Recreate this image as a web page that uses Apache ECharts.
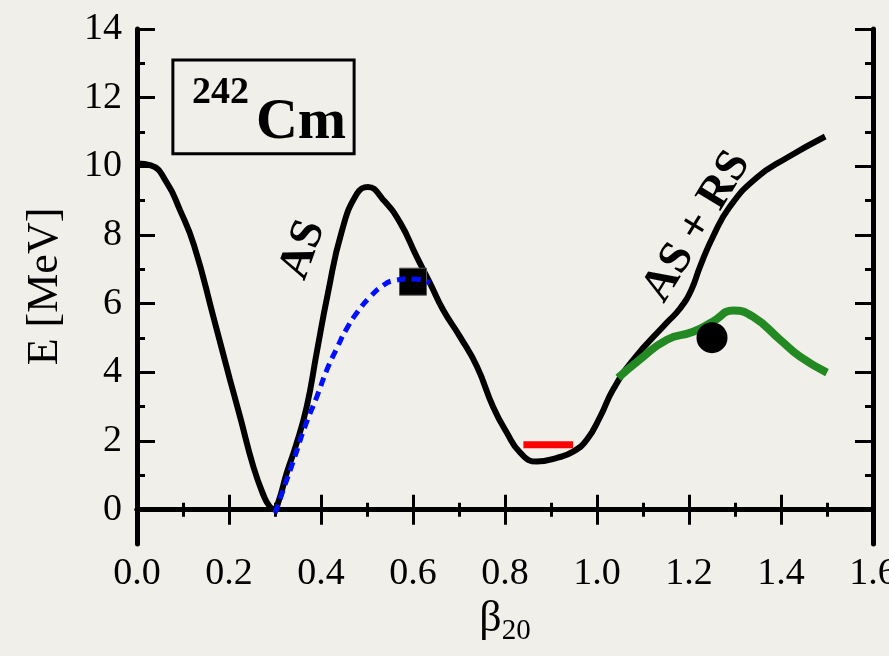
<!DOCTYPE html>
<html>
<head>
<meta charset="utf-8">
<script src="https://cdn.jsdelivr.net/npm/echarts@6/dist/echarts.min.js"></script>
<style>
  html, body { margin: 0; padding: 0; background: #f1efea; }
  #chart { width: 889px; height: 656px; }
</style>
</head>
<body>
<div id="chart"></div>
<script>
// Potential energy of 242Cm along the fission path (beta_20, MeV)
const asBeta = [0.0, 0.03, 0.065, 0.093, 0.124, 0.166, 0.202, 0.224, 0.253, 0.275, 0.288, 0.298, 0.308, 0.325, 0.345, 0.369, 0.391, 0.415, 0.445, 0.478, 0.502, 0.535, 0.572, 0.608, 0.637, 0.665, 0.702, 0.739, 0.774, 0.804, 0.833, 0.869, 0.913, 0.948, 0.978, 1.007, 1.035, 1.079, 1.152, 1.18, 1.205, 1.224, 1.252, 1.289, 1.347, 1.413, 1.496];
const asEnergy = [10.08, 10.03, 9.52, 8.74, 7.7, 5.62, 3.79, 2.71, 1.25, 0.42, 0.1, 0.02, 0.25, 1.05, 1.85, 3.0, 4.6, 6.3, 8.1, 9.2, 9.4, 9.03, 8.36, 7.37, 6.6, 5.83, 5.04, 4.17, 3.0, 2.24, 1.66, 1.4, 1.51, 1.69, 2.04, 2.71, 3.5, 4.37, 5.45, 5.85, 6.4, 7.08, 7.95, 8.83, 9.67, 10.25, 10.87];

// Dynamic path through the first barrier
const pathBeta = [0.3, 0.318, 0.343, 0.365, 0.391, 0.413, 0.435, 0.457, 0.48, 0.507, 0.532, 0.557, 0.6, 0.637];
const pathEnergy = [-0.1, 0.58, 1.54, 2.42, 3.29, 4.08, 4.72, 5.3, 5.77, 6.2, 6.5, 6.67, 6.72, 6.61];

// Reflection-asymmetric outer barrier
const rsBeta = [1.046, 1.093, 1.152, 1.209, 1.252, 1.296, 1.339, 1.398, 1.441, 1.5];
const rsEnergy = [3.84, 4.37, 4.95, 5.18, 5.48, 5.8, 5.62, 4.95, 4.46, 3.99];

// Fission isomer level
const isomerBeta = [0.84, 0.948];
const isomerEnergy = [1.89, 1.89];

// Experimental barrier heights
const innerBarrier = [0.6, 6.64];
const outerBarrier = [1.25, 5.01];

const xTicks = [0.0, 0.2, 0.4, 0.6, 0.8, 1.0, 1.2, 1.4, 1.6];
const yMajor = [0, 2, 4, 6, 8, 10, 12, 14];
const yMinor = [1, 3, 5, 7, 9, 11, 13];

const serif = "'Liberation Serif', 'Times New Roman', serif";
const pair = (xs, ys) => xs.map((x, i) => [x, ys[i]]);

const chart = echarts.init(document.getElementById('chart'));

const frame = { show: true, lineStyle: { color: '#000', width: 5 } };
const tickStyle = { color: '#000', width: 3 };

chart.setOption({
  backgroundColor: '#f1efea',
  animation: false,
  grid: { left: 137, right: 16, top: 29, bottom: 112, outerBoundsMode: 'none', containLabel: false },
  xAxis: [
    {
      type: 'value', position: 'bottom', min: 0, max: 1.6, interval: 0.2,
      axisLine: frame,
      axisTick: { inside: true, length: 15, lineStyle: tickStyle },
      minorTick: { show: true, splitNumber: 2, length: 7, lineStyle: tickStyle },
      splitLine: { show: false },
      axisLabel: {
        margin: 11, color: '#000', fontFamily: serif, fontSize: 38,
        formatter: v => v.toFixed(1), customValues: xTicks
      },
      name: '{b|β}{s|20}', nameLocation: 'middle', nameGap: 50,
      nameTextStyle: {
        rich: {
          b: { fontFamily: serif, fontSize: 44, color: '#000' },
          s: { fontFamily: serif, fontSize: 29, color: '#000', padding: [22, 0, 0, 0] }
        }
      }
    },
    {
      type: 'value', position: 'top', min: 0, max: 1.6, interval: 0.2,
      axisLine: frame,
      axisTick: { inside: true, length: 15, lineStyle: tickStyle },
      minorTick: { show: true, splitNumber: 2, length: 7, lineStyle: tickStyle },
      splitLine: { show: false },
      axisLabel: { show: false }
    }
  ],
  yAxis: [
    {
      type: 'value', position: 'left', min: -1, max: 14,
      axisLine: frame,
      axisTick: { inside: true, length: 18, customValues: yMajor, lineStyle: tickStyle },
      splitLine: { show: false },
      axisLabel: {
        margin: 15, color: '#000', fontFamily: serif, fontSize: 38, customValues: yMajor
      },
      name: 'E [MeV]', nameLocation: 'middle', nameGap: 70, nameRotate: 90,
      nameTextStyle: { fontFamily: serif, fontSize: 44, color: '#000' }
    },
    {
      type: 'value', position: 'left', min: -1, max: 14,
      axisLine: { show: false },
      axisTick: { inside: true, length: 8, customValues: yMinor, lineStyle: tickStyle },
      splitLine: { show: false },
      axisLabel: { show: false }
    },
    {
      type: 'value', position: 'right', min: -1, max: 14,
      axisLine: frame,
      axisTick: { inside: true, length: 18, customValues: yMajor, lineStyle: tickStyle },
      splitLine: { show: false },
      axisLabel: { show: false }
    },
    {
      type: 'value', position: 'right', min: -1, max: 14,
      axisLine: { show: false },
      axisTick: { inside: true, length: 8, customValues: yMinor, lineStyle: tickStyle },
      splitLine: { show: false },
      axisLabel: { show: false }
    }
  ],
  series: [
    {
      name: 'AS', type: 'line', data: pair(asBeta, asEnergy),
      smooth: 0.5, showSymbol: false,
      lineStyle: { color: '#000', width: 6 }, z: 2
    },
    {
      name: 'isomer', type: 'line', data: pair(isomerBeta, isomerEnergy),
      showSymbol: false, lineStyle: { color: '#ff0000', width: 7, cap: 'butt' }, z: 3
    },
    {
      name: 'RS', type: 'line', data: pair(rsBeta, rsEnergy),
      smooth: 0.5, showSymbol: false,
      lineStyle: { color: '#238a23', width: 8 }, z: 3
    },
    {
      name: 'inner barrier', type: 'scatter', data: [innerBarrier],
      symbol: 'rect', symbolSize: 27,
      itemStyle: { color: '#000', borderColor: '#555', borderWidth: 1, opacity: 1 }, z: 4
    },
    {
      name: 'path', type: 'line', data: pair(pathBeta, pathEnergy),
      smooth: 0.5, showSymbol: false,
      lineStyle: { color: '#0010ff', width: 5, type: [9, 6] }, z: 5
    },
    {
      name: 'outer barrier', type: 'scatter', data: [outerBarrier],
      symbol: 'circle', symbolSize: 31,
      itemStyle: { color: '#000', opacity: 1 }, z: 6
    }
  ]
});

// Annotations placed in data coordinates
const px = (x, y) => chart.convertToPixel({ xAxisIndex: 0, yAxisIndex: 0 }, [x, y]);
const boxTL = px(0.078, 13.1);
const boxBR = px(0.472, 10.37);
const asPos = px(0.361, 7.57);
const asrsPos = px(1.217, 8.24);

chart.setOption({
  graphic: [
    {
      type: 'rect', z: 10,
      shape: { x: boxTL[0], y: boxTL[1], width: boxBR[0] - boxTL[0], height: boxBR[1] - boxTL[1] },
      style: { fill: 'transparent', stroke: '#000', lineWidth: 3 }
    },
    {
      type: 'text', z: 10, x: boxTL[0] + 19, y: boxTL[1] + 52,
      style: { text: '242', fontFamily: serif, fontWeight: 'bold', fontSize: 38, fill: '#000', verticalAlign: 'bottom' }
    },
    {
      type: 'text', z: 10, x: boxTL[0] + 83, y: boxTL[1] + 92,
      style: { text: 'Cm', fontFamily: serif, fontWeight: 'bold', fontSize: 58, fill: '#000', verticalAlign: 'bottom' }
    },
    {
      type: 'text', z: 10, x: asPos[0], y: asPos[1], rotation: 70 * Math.PI / 180,
      style: { text: 'AS', fontFamily: serif, fontWeight: 'bold', fontSize: 46, fill: '#000', align: 'center', verticalAlign: 'middle' }
    },
    {
      type: 'text', z: 10, x: asrsPos[0], y: asrsPos[1], rotation: 58.7 * Math.PI / 180,
      style: { text: 'AS + RS', fontFamily: serif, fontWeight: 'bold', fontSize: 46, fill: '#000', align: 'center', verticalAlign: 'middle' }
    }
  ]
});
</script>
</body>
</html>
